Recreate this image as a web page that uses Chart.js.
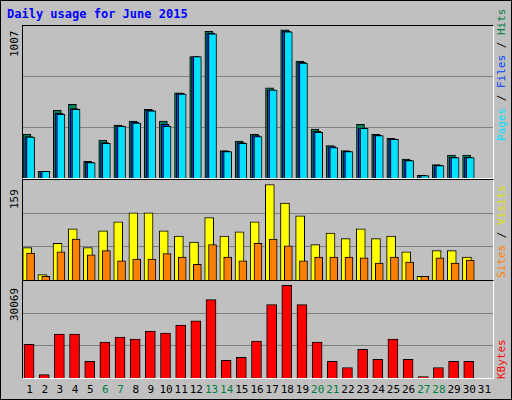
<!DOCTYPE html>
<html><head><meta charset="utf-8">
<script src="https://cdn.jsdelivr.net/npm/chart.js@4"></script>
<style>
body{margin:0;background:#fff}
#w{position:absolute;left:0;top:0;width:510px;height:398px;background:#c0c0c0;border:1px solid #000;box-sizing:content-box}
.t{position:absolute;font-family:"DejaVu Sans Mono",monospace;white-space:nowrap}
.p{position:absolute;left:21px;width:470px;background:#c0c0c0;border-top:1px solid #000;border-left:1px solid #000;border-right:1px solid #fff;border-bottom:1px solid #fff}
.p canvas{position:absolute;left:0;top:0}
.rv{position:absolute;transform:rotate(-90deg);transform-origin:left top;font-family:"DejaVu Sans Mono",monospace;font-size:11px;white-space:nowrap}
</style></head><body>
<div id="w">
<div class="t" style="left:6px;top:6px;font-size:12px;font-weight:bold;color:#0000ff">Daily usage for June 2015</div>
<div class="p" style="top:24px;height:152px"><canvas id="c1" width="470" height="152"></canvas></div>
<div class="p" style="top:178px;height:100px"><canvas id="c2" width="470" height="100"></canvas></div>
<div class="p" style="top:279px;height:97px"><canvas id="c3" width="470" height="97"></canvas></div>
<div class="rv" style="left:7px;top:56px;color:#000">1007</div>
<div class="rv" style="left:7px;top:208px;color:#000">159</div>
<div class="rv" style="left:7px;top:320px;color:#000">30069</div>
<div class="rv" style="left:494px;top:140px"><span style="color:#00e0ff">Pages</span> / <span style="color:#0040ff">Files</span> / <span style="color:#008040">Hits</span></div>
<div class="rv" style="left:494px;top:277px"><span style="color:#ff8000">Sites</span> / <span style="color:#e0e000">Visits</span></div>
<div class="rv" style="left:494px;top:378px;color:#ff0000">KBytes</div>
<div id="xl"></div>
</div>
<script>
const days=[1,2,3,4,5,6,7,8,9,10,11,12,13,14,15,16,17,18,19,20,21,22,23,24,25,26,27,28,29,30,31];
const weekend=[6,7,13,14,20,21,27,28];
const hits=[296,46,460,501,114,257,360,387,467,387,579,825,996,187,251,296,613,1007,795,333,221,187,364,296,269,128,18,91,155,155,0];
const files=[282,46,440,472,107,240,354,380,460,365,575,825,985,182,240,288,600,998,786,318,213,182,340,292,265,120,17,86,141,141,0];
const pages=[278,46,433,467,105,235,351,374,456,351,570,825,980,180,235,282,597,993,781,310,207,180,337,289,262,118,16,84,139,139,0];
const visits=[54,9,61,85,54,82,97,112,112,82,73,63,104,73,80,97,159,128,107,59,78,69,85,69,73,47,6,49,49,38,0];
const sites=[45,6,47,68,42,49,32,35,35,44,38,26,59,38,32,61,68,57,32,38,38,38,37,28,38,30,6,37,28,33,0];
const kbytes=[10970,1097,14260,14260,5375,11630,13270,12620,15250,14590,17220,18540,25450,5704,6692,11960,23800,30069,23800,11630,5375,3400,9325,6034,12620,6034,440,3400,5375,5375,0];

const xl=document.getElementById('xl');
days.forEach(d=>{const s=document.createElement('div');s.className='t';s.textContent=d;
 s.style.cssText+=';font-size:11px;top:382px;width:20px;text-align:center;left:'+(21+(d-0.5)*470/31-10)+'px;color:'+(weekend.includes(d)?'#008040':'#000');xl.appendChild(s);});

function pts(arr,off){return arr.map((v,i)=>({x:days[i]+off,y:v}));}
function mk(id,max,sets){
 new Chart(document.getElementById(id),{type:'bar',
  data:{datasets:sets.map(s=>({data:pts(s.d,s.o),backgroundColor:s.c,borderColor:'#000',borderWidth:1,barThickness:s.w,grouped:false,order:s.ord,borderSkipped:'bottom'}))},
  options:{responsive:false,animation:false,layout:{padding:0},plugins:{legend:{display:false},tooltip:{enabled:false}},
   scales:{x:{type:'linear',min:0.5,max:31.5,offset:false,display:false},
    y:{min:0,max:max,ticks:{display:false,stepSize:max/3},grid:{color:'#808080',drawTicks:false,lineWidth:c=>(c.tick.value>0&&c.tick.value<max-1)?1:0},border:{display:false}}}}});
}
mk('c1',1033,[{d:hits,o:-0.24,c:'#008060',w:8,ord:3},{d:files,o:-0.12,c:'#0040ff',w:8,ord:2},{d:pages,o:0,c:'#00e0ff',w:8,ord:1}]);
mk('c2',166.5,[{d:visits,o:-0.22,c:'#ffff00',w:9,ord:2},{d:sites,o:0,c:'#ff8000',w:8,ord:1}]);
mk('c3',31496,[{d:kbytes,o:-0.1,c:'#ff0000',w:10,ord:1}]);
</script>
</body></html>
